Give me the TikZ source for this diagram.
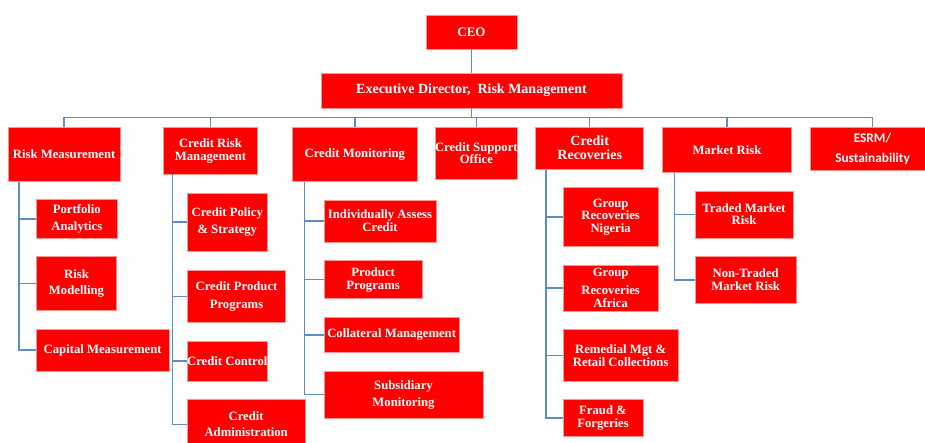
\documentclass[tikz,border=0pt]{standalone}
\usepackage{fontspec}
\setmainfont{Liberation Serif}
\newfontfamily\calfont{Carlito}
\definecolor{boxred}{RGB}{255,0,0}
\definecolor{boxedge}{RGB}{255,150,150}
\definecolor{linkblue}{RGB}{91,141,200}
\tikzset{
  box/.style={fill=boxred, draw=boxedge, line width=0.7pt, text=white,
    font=\bfseries\fontsize{12.7}{13}\selectfont, align=center, inner sep=0pt, anchor=center},
  conn/.style={draw=linkblue, line width=1.4pt}
}
\newcommand\bx[7][]{\node[box,#1, minimum width={(#5)-(#3)}, minimum height={(#6)-(#4)}] (#2) at ({((#3)+(#5))/2},{((#4)+(#6))/2}) {#7};}
\begin{document}
\begin{tikzpicture}[x=1pt,y=-1pt]
\useasboundingbox (0,0) rectangle (925,443);
% top
\bx[font=\bfseries\fontsize{13}{13}\selectfont]{CEO}{426}{15}{517}{49}{CEO}
\bx[font=\bfseries\fontsize{14}{14}\selectfont]{ED}{321}{73}{622}{108}{Executive Director,~ Risk Management}
% level 2
\bx{RM}{8}{127}{120.3}{181.7}{Risk Measurement}
\bx{CRM}{163.3}{127}{257.7}{174}{Credit Risk\\Management}
\bx{CM}{292.3}{127}{417.3}{181.7}{Credit Monitoring}
\bx{CSO}{435.7}{127}{517}{179.3}{Credit Support\\[-0.5pt]Office}
\bx[font=\bfseries\fontsize{14}{14}\selectfont]{CR}{535.7}{127}{643.7}{169.3}{Credit\\Recoveries}
\bx{MR}{662.3}{127}{791.7}{172.7}{Market Risk}
\bx[font=\calfont\bfseries\fontsize{13.3}{14}\selectfont]{ESRM}{810}{127}{935}{170.7}{ESRM/\\[6pt]Sustainability}
% risk measurement children
\bx{PA}{36.3}{199.7}{117.3}{238.3}{Portfolio\\[3.7pt]Analytics}
\bx{RMod}{36.3}{256.7}{116.7}{310}{Risk\\[3.7pt]Modelling}
\bx{CapM}{36.3}{329}{169}{371}{Capital Measurement}
% credit risk management children
\bx{CPS}{187.3}{193}{267.3}{251}{Credit Policy\\[4.7pt]\& Strategy}
\bx{CPP}{187.3}{270}{285.7}{322.7}{Credit Product\\[4.3pt]Programs}
\bx{CC}{187.3}{341.3}{267.3}{381}{Credit Control}
\bx{CA}{187.3}{399.3}{305}{449.3}{Credit\\[3.7pt]Administration}
% credit monitoring children
\bx{IAC}{324}{200}{436}{242}{Individually Assess\\Credit}
\bx{PP}{324}{260.3}{422.3}{298.7}{Product\\Programs}
\bx{ColM}{324}{317}{459.3}{352.7}{Collateral Management}
\bx{SubM}{324}{371}{483}{418.3}{Subsidiary\\[4.3pt]Monitoring}
% credit recoveries children
\bx{GRN}{563}{187.3}{658.3}{246.7}{Group\\[-0.5pt]Recoveries\\[-0.5pt]Nigeria}
\bx{GRA}{563}{265}{658.3}{311}{Group\\[4.7pt]Recoveries\\Africa}
\bx{RemM}{563}{329.7}{678.3}{381}{Remedial Mgt \&\\Retail Collections}
\bx{FF}{563}{399.3}{643}{436.7}{Fraud \&\\Forgeries}
% market risk children
\bx{TMR}{695}{191}{793}{238}{Traded Market\\[-0.7pt]Risk}
\bx{NTMR}{695}{256.3}{796.3}{303.7}{Non-Traded\\Market Risk}
% connectors
\coordinate (busL) at (64,117.3);
\coordinate (busR) at (872.7,117.3);
\draw[conn] (CEO.south) -- (ED.north);
\draw[conn] (ED.south) -- (ED.south |- busL);
\draw[conn] (busL) -- (busR);
\foreach \n in {RM,CRM,CM,CSO,CR,MR,ESRM}{\draw[conn] (\n.north) -- (\n.north |- busL);}
\coordinate (rmx) at (19,0);
\coordinate (crmx) at (172.3,0);
\coordinate (cmx) at (304.3,0);
\coordinate (crx) at (546,0);
\coordinate (mrx) at (674.7,0);
\draw[conn] (rmx |- RM.south) |- (CapM.west);
\foreach \c in {PA,RMod}{\draw[conn] (rmx |- \c.west) -- (\c.west);}
\draw[conn] (crmx |- CRM.south) |- (CA.west);
\foreach \c in {CPS,CPP,CC}{\draw[conn] (crmx |- \c.west) -- (\c.west);}
\draw[conn] (cmx |- CM.south) |- (SubM.west);
\foreach \c in {IAC,PP,ColM}{\draw[conn] (cmx |- \c.west) -- (\c.west);}
\draw[conn] (crx |- CR.south) |- (FF.west);
\foreach \c in {GRN,GRA,RemM}{\draw[conn] (crx |- \c.west) -- (\c.west);}
\draw[conn] (mrx |- MR.south) |- (NTMR.west);
\draw[conn] (mrx |- TMR.west) -- (TMR.west);
\end{tikzpicture}
\end{document}
